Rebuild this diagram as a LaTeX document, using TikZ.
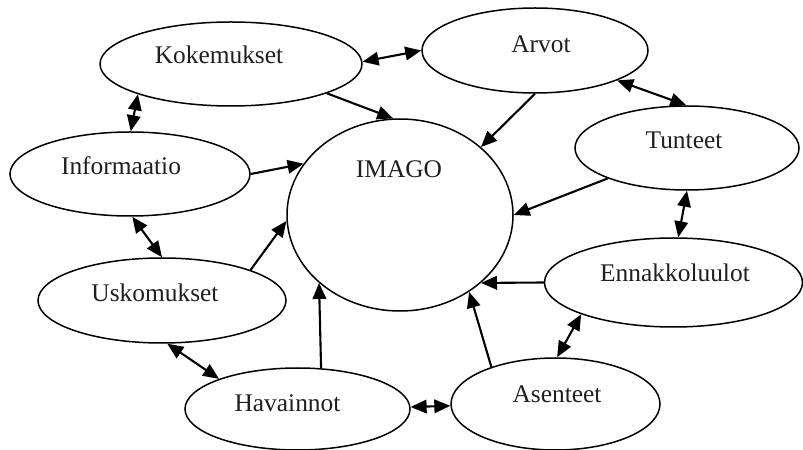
\documentclass[tikz,border=0pt]{standalone}
\usepackage{fontspec}
\setmainfont{Liberation Serif}
\usetikzlibrary{shapes.geometric,arrows.meta}

\tikzset{
  bubble/.style={ellipse, draw=black, line width=1.5bp, inner sep=0pt},
  word/.style={anchor=base, inner sep=0pt, text=black!88,
    font=\fontsize{25.5}{30}\selectfont},
  link/.style={line width=2.1bp, -{Triangle[length=16bp,width=13.5bp]}},
  twoway/.style={line width=2.1bp, {Triangle[length=16bp,width=13.5bp]}-{Triangle[length=16bp,width=13.5bp]}}
}

\begin{document}
\begin{tikzpicture}[x=1bp,y=-1bp]
  \useasboundingbox (0,0) rectangle (803,450);

  % ellipses
  \node[bubble, minimum width=262bp, minimum height=84bp] (kok) at (231,64) {};
  \node[bubble, minimum width=226bp, minimum height=85bp] (arv) at (535,50.5) {};
  \node[bubble, minimum width=224bp, minimum height=84bp] (tun) at (687,148) {};
  \node[bubble, minimum width=240bp, minimum height=84bp] (inf) at (130,174) {};
  \node[bubble, minimum width=226bp, minimum height=192bp] (img) at (400,215) {};
  \node[bubble, minimum width=248bp, minimum height=85bp] (usk) at (162,300.5) {};
  \node[bubble, minimum width=225bp, minimum height=82bp] (hav) at (297.5,409) {};
  \node[bubble, minimum width=258bp, minimum height=89bp] (enn) at (673.5,282.5) {};
  \node[bubble, minimum width=209bp, minimum height=92bp] (ase) at (555.5,404) {};

  % texts
  \node[word] (kok-t) at (219,64) {Kokemukset};
  \node[word] (arv-t) at (541,53) {Arvot};
  \node[word] (tun-t) at (684,149) {Tunteet};
  \node[word] (inf-t) at (121,175) {Informaatio};
  \node[word] (img-t) at (399,178) {IMAGO};
  \node[word] (usk-t) at (155,302) {Uskomukset};
  \node[word] (hav-t) at (287.5,411) {Havainnot};
  \node[word] (enn-t) at (675,282) {Ennakkoluulot};
  \node[word] (ase-t) at (557,402) {Asenteet};

  % two-way links between neighbours
  \draw[twoway] (kok.1) -- (arv.180);
  \draw[twoway] (arv.-20.2) -- (tun.91);
  \draw[twoway] (tun.-90) -- (enn.84);
  \draw[twoway] (kok.198.6) -- (inf.89);
  \draw[twoway] (inf.-87) -- (usk.90);
  \draw[twoway] (usk.-83) -- (hav.159.3);
  \draw[twoway] (hav.1.2) -- (ase.181.5);
  \draw[twoway] (ase.88) -- (enn.199.8);

  % links into IMAGO
  \draw[link] (kok.-17.7) -- (img.94);
  \draw[link] (arv.-90) -- (img.40.1);
  \draw[link] (tun.201.2) -- (img.0.5);
  \draw[link] (inf.0) -- (img.152);
  \draw[link] (usk.19.1) -- (img.183.5);
  \draw[link] (hav.60.75) -- (img.220.28);
  \draw[link] (ase.150.5) -- (img.-48.8);
  \draw[link] (enn.180) -- (img.-40.03);
\end{tikzpicture}
\end{document}
